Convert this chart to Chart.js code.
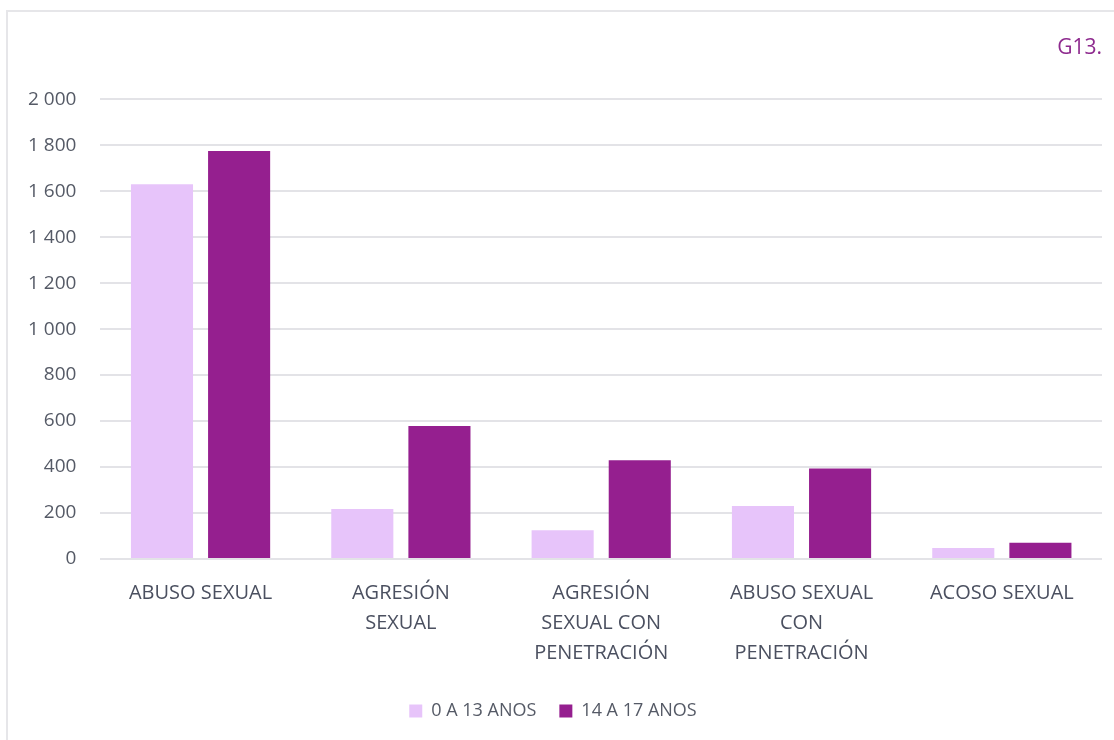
<!DOCTYPE html>
<html>
<head>
<meta charset="utf-8">
<script src="https://cdn.jsdelivr.net/npm/chart.js@4"></script>
<style>
  html, body { margin: 0; padding: 0; background: #fff; }
  #frame { position: absolute; left: 6px; top: 10px; width: 1130px; height: 760px;
           border-left: 2px solid #e6e6e9; border-top: 2px solid #e6e6e9; }
  #wrap { position: absolute; left: 0; top: 0; width: 1114px; height: 740px; }
</style>
</head>
<body>
<div id="frame"></div>
<div id="wrap"><canvas id="chart"></canvas></div>
<script>
// ─── datos (G13) ───────────────────────────────────────────
const categories = [
  'ABUSO SEXUAL',
  ['AGRESIÓN', 'SEXUAL'],
  ['AGRESIÓN', 'SEXUAL CON', 'PENETRACIÓN'],
  ['ABUSO SEXUAL', 'CON', 'PENETRACIÓN'],
  'ACOSO SEXUAL',
];
const seriesNames = ['0 A 13 ANOS', '14 A 17 ANOS'];
const young = [1630, 218, 125, 230, 48];
const older = [1775, 578, 430, 394, 71];
const yTicks = [0, 200, 400, 600, 800, 1000, 1200, 1400, 1600, 1800, 2000];

const FONT = '"Open Sans", Lato, sans-serif';
const fmt = v => v >= 1000 ? String(v).replace(/(\d)(\d{3})$/, '$1 $2') : String(v);

new Chart(document.getElementById('chart'), {
  type: 'bar',
  data: {
    labels: categories,
    datasets: [
      { label: seriesNames[0], data: young, backgroundColor: '#E7C4FA' },
      { label: seriesNames[1], data: older, backgroundColor: '#951F8F' },
    ],
  },
  options: {
    responsive: true, maintainAspectRatio: false, animation: false,
    categoryPercentage: 0.77, barPercentage: 0.805,
    layout: { padding: { left: 4, right: 12, top: 35, bottom: 10 } },
    plugins: {
      title: {
        display: true, text: 'G13.', align: 'end', color: '#8E2A8E',
        font: { family: FONT, size: 21, weight: 'normal' }, padding: { top: 0, bottom: 39 },
      },
      legend: {
        position: 'bottom',
        labels: {
          boxWidth: 13, boxHeight: 13, padding: 23, color: '#555A66',
          font: { family: FONT, size: 18 },
        },
      },
      tooltip: { enabled: false },
    },
    scales: {
      x: {
        grid: { display: false }, border: { display: false },
        ticks: { color: '#4B5060', font: { family: FONT, size: 20, lineHeight: 1.5 }, padding: 11, maxRotation: 0, autoSkip: false },
      },
      y: {
        min: 0, max: 2000,
        afterBuildTicks: ax => { ax.ticks = yTicks.map(v => ({ value: v })); },
        grid: { color: '#E3E3E7', lineWidth: 2, drawTicks: false },
        border: { display: false },
        ticks: { color: '#555A66', font: { family: FONT, size: 19 }, padding: 24, callback: v => fmt(v) },
      },
    },
  },
});
</script>
</body>
</html>
